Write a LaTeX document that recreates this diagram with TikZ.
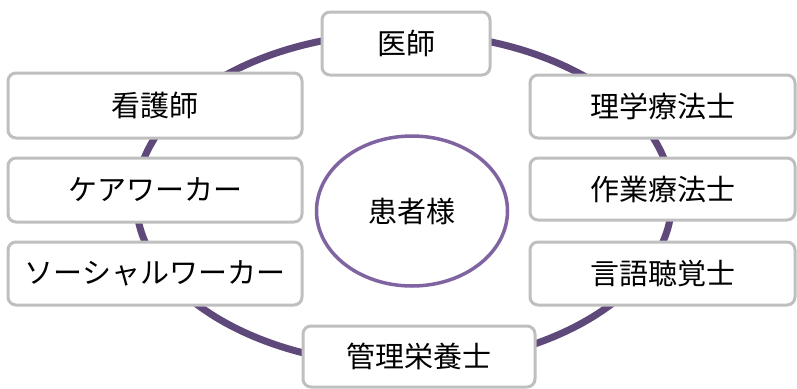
\documentclass[tikz,border=0pt]{standalone}
\usepackage{fontspec}
\setmainfont{Noto Sans CJK JP}
\usetikzlibrary{shapes.geometric}
\definecolor{ringpurple}{HTML}{5F497A}
\definecolor{centerpurple}{HTML}{8064A2}
\definecolor{boxgray}{HTML}{BFBFBF}
\begin{document}
\begin{tikzpicture}[x=1pt,y=-1pt,line join=round,line cap=round]
	\tikzset{every node/.style={font=\fontsize{29}{33}\selectfont},
		staff/.style={draw=boxgray,line width=3pt,fill=white,rounded corners=8pt,inner sep=0pt},
		patient/.style={ellipse,draw=centerpurple,line width=3.5pt,fill=white,minimum width=191pt,minimum height=150pt}}
	\useasboundingbox (0,0) rectangle (797,388);
	% outer ring
	\draw[ringpurple,line width=7pt] (404,199) ellipse [x radius=268pt,y radius=166pt];
	% patient in the middle
	\node[patient] (kanja) at (412,211) {患者様};
	% staff round the ring
	\node[staff,minimum width=168pt,minimum height=63pt] (ishi) at (406,43.5) {医師};
	\node[staff,minimum width=294pt,minimum height=65pt] (kango) at (155,105.5) {看護師};
	\node[staff,minimum width=294pt,minimum height=64pt] (care) at (155,190) {ケアワーカー};
	\node[staff,minimum width=294pt,minimum height=63pt] (social) at (155,273.5) {ソーシャルワーカー};
	\node[staff,minimum width=265pt,minimum height=63pt] (pt) at (662.5,106.5) {理学療法士};
	\node[staff,minimum width=265pt,minimum height=62pt] (ot) at (662.5,189) {作業療法士};
	\node[staff,minimum width=265pt,minimum height=63pt] (st) at (662.5,273.5) {言語聴覚士};
	\node[staff,minimum width=232pt,minimum height=61pt] (eiyo) at (419,356.5) {管理栄養士};
\end{tikzpicture}
\end{document}
